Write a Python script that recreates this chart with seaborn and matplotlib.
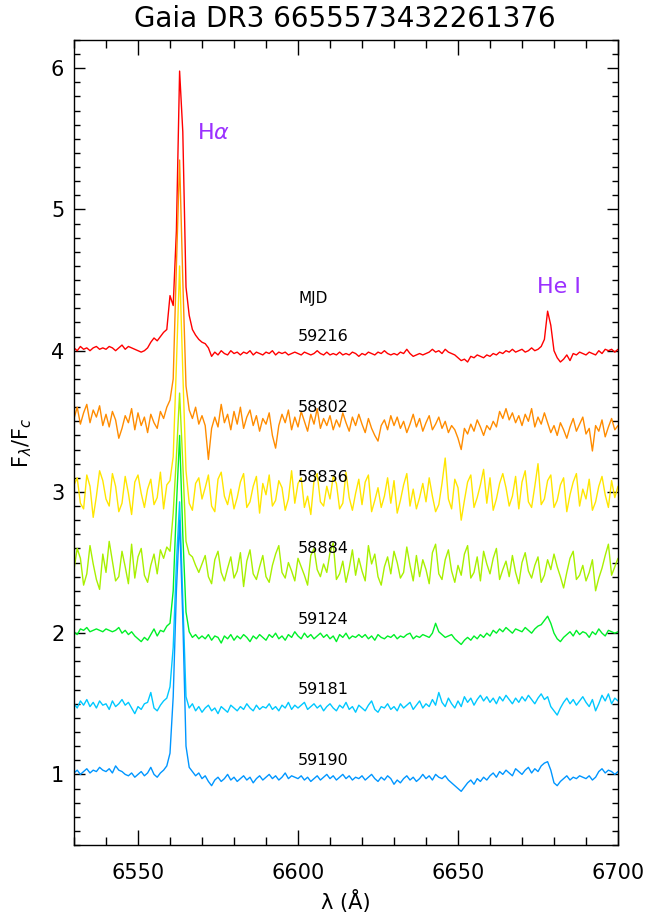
import numpy as np
import pandas as pd
import matplotlib
matplotlib.use("Agg")
import matplotlib.pyplot as plt
import seaborn as sns
from matplotlib.ticker import MultipleLocator

# ---------------- data ----------------
wavelength = np.arange(6530, 6701, 1.0)  # Angstrom sampling grid

mjd_labels = ["59216", "58802", "58836", "58884", "59124", "59181", "59190"]
offsets = [3.0, 2.5, 2.0, 1.5, 1.0, 0.5, 0.0]
line_colors = ["#FF0000", "#FF8C00", "#FFE600", "#A8F000", "#00F028", "#00C8FF", "#0096FF"]

flux_59216 = [
    1.02, 1.00, 1.03, 1.01, 1.02, 1.00, 1.02, 1.03, 1.01, 1.02,
    1.01, 1.03, 1.02, 1.00, 1.02, 1.04, 1.01, 1.03, 1.02, 1.01,
    1.00, 0.99, 1.00, 1.02, 1.06, 1.09, 1.07, 1.10, 1.13, 1.15,
    1.39, 1.32, 1.85, 2.98, 2.55, 1.45, 1.25, 1.15, 1.11, 1.08,
    1.06, 1.05, 1.02, 0.96, 0.99, 0.97, 1.00, 0.98, 0.97, 1.00,
    0.98, 0.99, 0.97, 0.99, 0.98, 1.00, 0.97, 0.99, 0.98, 0.97,
    0.99, 0.98, 1.00, 0.97, 0.99, 0.98, 0.99, 0.97, 0.98, 0.99,
    0.98, 0.97, 0.99, 0.98, 0.97, 0.98, 1.00, 0.98, 0.97, 0.99,
    0.97, 0.98, 0.97, 0.99, 0.97, 0.98, 0.97, 0.99, 0.98, 0.96,
    0.98, 0.97, 0.99, 0.98, 0.97, 0.99, 0.98, 1.00, 0.98, 0.97,
    0.98, 0.97, 0.99, 0.98, 1.01, 0.98, 0.96, 0.97, 0.98, 0.97,
    0.98, 0.99, 1.01, 0.99, 1.00, 0.98, 1.01, 0.99, 0.98, 0.97,
    0.95, 0.93, 0.94, 0.92, 0.96, 0.95, 0.97, 0.96, 0.95, 0.97,
    0.96, 0.98, 0.97, 0.99, 0.98, 1.00, 0.99, 1.01, 0.99, 1.00,
    1.01, 0.99, 1.00, 1.02, 1.00, 1.01, 1.03, 1.08, 1.28, 1.18,
    1.00, 0.95, 0.92, 0.94, 0.97, 0.93, 0.98, 0.97, 0.99, 0.98,
    0.97, 0.99, 0.98, 0.97, 1.00, 0.98, 1.01, 1.00, 1.01, 0.99,
    1.01,
]

flux_58802 = [
    1.02, 1.10, 0.98, 1.06, 1.12, 0.99, 1.08, 1.03, 1.11, 0.97,
    1.05, 0.96, 1.07, 1.01, 0.88, 0.95, 1.04, 0.99, 1.09, 0.94,
    1.06, 0.97, 1.03, 0.92, 1.05, 0.99, 0.95, 1.07, 1.02, 1.10,
    1.15, 1.30, 2.10, 2.85, 2.00, 1.25, 1.08, 1.02, 1.10, 0.98,
    1.04, 0.97, 0.73, 0.95, 1.03, 0.96, 1.12, 0.99, 1.05, 0.94,
    1.07, 0.98, 1.10, 0.95, 1.03, 1.08, 0.97, 1.04, 0.93, 1.02,
    0.98, 1.06, 0.90, 0.81, 0.97, 1.05, 0.99, 1.08, 0.94, 1.03,
    0.96, 1.07, 1.00, 0.93, 1.05, 0.98, 1.09, 0.95, 1.02, 0.97,
    1.04, 0.94, 1.01, 0.96, 1.06, 0.99, 0.93, 1.03, 0.97, 1.05,
    0.98, 0.92, 1.02, 0.95, 0.90, 0.86, 0.97, 1.01, 0.94, 1.04,
    0.97, 1.03, 0.95, 1.00, 0.92, 0.98, 1.05, 0.96, 1.02, 0.93,
    0.99, 1.04, 0.94, 0.98, 1.03, 0.95, 1.00, 0.92, 0.97, 0.94,
    0.88, 0.80, 0.95, 0.91, 0.98, 0.93, 1.01, 0.96, 0.90, 0.97,
    0.94, 1.00, 0.96, 1.07, 1.02, 1.09, 1.01, 1.06, 0.99, 1.04,
    0.97, 1.05, 1.00, 1.09, 0.96, 1.03, 0.98, 1.06, 0.99, 0.92,
    0.97, 0.90, 0.99, 0.94, 0.88, 0.96, 1.02, 0.93, 0.98, 1.03,
    0.91, 0.95, 0.79, 0.97, 0.93, 1.01, 0.89, 0.96, 1.02, 0.94,
    0.97,
]

flux_58836 = [
    1.05, 1.10, 0.92, 0.88, 1.12, 1.04, 0.82, 0.97, 1.15, 1.08,
    0.95, 0.90, 1.13, 1.04, 0.86, 0.92, 1.11, 0.99, 0.84, 1.07,
    1.12, 0.99, 0.89, 1.02, 1.09, 0.91, 0.96, 1.14, 0.88, 1.05,
    1.08, 1.25, 1.90, 2.60, 1.85, 1.15, 0.92, 0.87, 1.06, 1.10,
    0.95, 1.03, 1.12, 0.90, 0.86, 1.09, 1.14, 0.97, 0.91, 1.02,
    0.88, 0.96, 1.07, 1.13, 0.89, 0.93, 1.04, 1.11, 0.85, 1.06,
    0.98, 1.12, 0.90, 0.94, 1.08, 1.03, 0.87, 0.95, 1.15, 0.92,
    1.06, 1.10, 0.89, 0.97, 0.84, 1.08, 1.13, 0.93, 0.90, 1.04,
    0.95, 1.11, 1.06, 0.88, 0.92, 1.14, 0.96, 0.87, 0.99, 1.09,
    0.91, 1.07, 1.12, 0.86, 0.94, 1.03, 0.89, 0.97, 1.10, 0.92,
    1.08, 0.85, 0.94, 1.05, 1.13, 0.90, 1.02, 0.88, 0.96, 1.06,
    0.93, 1.10, 0.97, 0.86, 0.91, 1.06, 1.24, 0.95, 0.88, 1.09,
    1.03, 0.80, 0.94, 1.07, 1.12, 0.89, 0.96, 1.05, 1.16, 0.92,
    1.10, 0.87, 0.95, 1.06, 1.13, 1.03, 0.90, 0.97, 1.11, 0.88,
    1.07, 1.15, 0.93, 0.89, 1.04, 1.20, 0.91, 0.95, 1.08, 1.12,
    0.89, 0.94, 1.05, 1.10, 0.86, 0.98, 1.07, 1.13, 0.90, 1.02,
    0.95, 1.09, 0.87, 0.93, 1.04, 1.11, 0.98, 0.89, 1.08, 0.96,
    1.04,
]

flux_58884 = [
    0.95, 1.10, 1.03, 0.84, 0.92, 1.12, 0.99, 0.88, 0.81, 1.06,
    0.93, 1.15, 1.01, 0.87, 0.90, 1.08, 0.97, 0.85, 1.13, 0.89,
    1.04, 1.10, 0.91, 0.86, 0.98, 1.06, 0.92, 1.09, 1.03, 1.11,
    1.08, 1.35, 1.75, 2.20, 1.70, 1.15, 1.06, 1.04, 0.98, 0.93,
    0.99, 1.05, 0.90, 0.85, 1.02, 1.08, 0.93, 0.87, 0.96, 1.04,
    0.89, 0.94, 1.07, 0.83, 1.01, 1.09, 0.92, 0.88, 0.97, 1.05,
    0.90, 0.86, 0.98, 1.06, 1.12, 0.93, 0.89, 1.00, 0.94, 0.87,
    1.03, 0.97, 0.91, 0.84, 1.05, 1.10, 0.95, 0.90, 0.99, 0.93,
    1.07, 1.14, 0.88, 0.92, 1.01, 0.86, 0.96, 1.09, 0.91, 1.03,
    0.94, 0.87, 1.12, 0.99, 1.06, 0.90, 0.84, 0.97, 1.04, 0.92,
    1.08, 1.00, 0.89, 0.93, 1.11, 0.98, 0.87, 1.05, 0.90, 1.02,
    0.95, 0.85, 1.07, 1.13, 0.92, 0.88, 1.02, 1.09, 0.94, 0.86,
    0.98, 0.91, 1.06, 1.12, 0.89, 0.93, 1.04, 0.87, 1.08, 0.99,
    0.92, 1.03, 1.10, 0.88, 0.95, 1.01, 0.90, 1.05, 0.93, 0.85,
    1.00, 1.07, 0.94, 0.89, 0.98, 1.04, 0.86, 0.91, 1.02, 0.95,
    1.06, 0.97, 0.90, 0.82, 0.93, 1.03, 1.08, 0.88, 0.91, 0.98,
    0.87, 0.93, 1.02, 0.80, 0.89, 0.96, 1.05, 1.13, 0.91, 0.97,
    1.03,
]

flux_59124 = [
    1.01, 0.99, 1.03, 1.02, 1.04, 1.01, 1.02, 1.03, 1.02, 1.01,
    1.03, 1.02, 1.01, 1.02, 1.04, 1.00, 1.02, 0.99, 1.01, 0.98,
    0.96, 0.94, 0.97, 0.95, 0.99, 1.03, 0.98, 1.02, 1.01, 1.05,
    1.07, 1.30, 1.90, 2.40, 1.70, 1.15, 1.01, 0.97, 0.99, 0.96,
    0.98, 0.96, 0.99, 0.95, 0.98, 0.97, 0.93, 0.98, 0.96, 0.99,
    0.95, 0.98, 0.96, 0.99, 0.97, 0.94, 0.98, 0.96, 0.99, 0.97,
    0.95, 0.99, 0.97, 1.00, 0.96, 0.98, 0.95, 0.99, 0.97, 1.01,
    0.98, 0.96, 1.00, 0.97, 0.99, 0.96, 0.98, 1.00, 0.97, 0.99,
    0.96, 0.98, 0.94, 0.99, 0.97, 1.00, 0.96, 0.98, 0.97, 0.99,
    0.97, 0.99, 0.96, 0.98, 0.95, 0.99, 0.97, 0.96, 0.98, 0.97,
    0.99, 0.96, 0.98, 0.97, 0.99, 1.00, 0.96, 0.98, 0.97, 0.99,
    0.98, 0.97, 1.00, 1.07, 1.01, 0.99, 0.97, 0.98, 0.99, 0.96,
    0.94, 0.92, 0.95, 0.97, 0.95, 0.98, 0.96, 0.99, 0.97, 1.00,
    0.98, 1.02, 1.00, 1.03, 1.01, 1.04, 1.02, 1.00, 1.03, 1.02,
    1.01, 1.04, 1.02, 1.00, 1.03, 1.05, 1.06, 1.09, 1.12, 1.07,
    1.00, 0.96, 0.94, 0.97, 0.99, 1.01, 0.98, 1.02, 0.99, 1.01,
    1.00, 0.97, 1.01, 0.99, 1.03, 1.00, 0.98, 1.02, 1.01, 1.00,
    1.01,
]

flux_59181 = [
    1.00, 0.97, 1.02, 0.99, 1.03, 0.98, 1.01, 0.97, 1.02, 0.99,
    1.00, 0.96, 1.02, 0.98, 1.00, 1.03, 0.99, 1.01, 0.97, 0.93,
    0.98, 0.96, 1.00, 1.01, 1.08, 0.97, 0.95, 0.99, 1.02, 1.04,
    1.12, 1.40, 2.00, 2.43, 1.75, 1.05, 0.97, 1.00, 0.95, 0.98,
    0.94, 0.97, 0.99, 0.95, 0.97, 0.93, 0.98, 0.96, 0.94, 0.99,
    0.97, 0.95, 0.98, 0.96, 1.00, 0.97, 0.95, 0.99, 0.96, 0.98,
    0.97, 1.00, 0.96, 0.98, 0.95, 0.99, 0.97, 1.01, 0.96, 0.99,
    0.97, 0.99, 1.01, 0.96, 0.98, 1.00, 0.97, 0.99, 0.95, 0.98,
    1.00, 0.97, 0.95, 0.99, 0.97, 1.01, 0.96, 0.98, 0.94, 0.99,
    0.97, 0.95, 0.99, 1.02, 0.96, 0.94, 0.98, 0.97, 1.00, 0.96,
    0.98, 0.95, 1.00, 0.97, 0.99, 1.01, 0.96, 0.99, 1.02, 0.97,
    1.00, 0.98, 1.03, 0.99, 1.08, 1.01, 0.98, 1.04, 1.00, 0.97,
    1.02, 0.98, 1.05, 1.01, 1.04, 0.99, 1.03, 1.06, 1.02, 1.05,
    1.01, 1.04, 1.00, 1.05, 1.02, 1.06, 1.03, 1.00, 1.04, 1.01,
    1.05, 1.02, 1.06, 1.03, 1.00, 1.04, 1.07, 1.03, 1.05, 0.98,
    0.95, 0.92, 0.97, 1.01, 1.04, 1.00, 1.03, 0.99, 1.02, 1.05,
    1.01, 0.98, 1.03, 0.95, 1.00, 1.06, 1.02, 1.07, 1.00, 1.04,
    1.02,
]

flux_59190 = [
    1.01, 1.03, 1.00, 1.02, 1.04, 1.01, 1.03, 1.02, 1.05, 1.03,
    1.02, 1.04, 1.01, 1.06, 1.03, 1.02, 1.00, 0.99, 1.01, 0.98,
    1.00, 1.02, 0.99, 1.01, 1.05, 1.00, 0.98, 1.01, 1.03, 1.06,
    1.15, 1.55, 2.30, 2.80, 2.10, 1.20, 1.05, 1.02, 0.99, 1.01,
    0.97, 0.99, 0.95, 0.92, 0.96, 0.98, 0.95, 0.97, 1.00, 0.96,
    0.98, 0.95, 0.97, 0.99, 0.96, 0.98, 0.94, 0.97, 0.99, 0.96,
    0.98, 1.00, 0.97, 0.99, 0.96, 0.98, 1.01, 0.97, 0.99, 0.98,
    0.97, 0.99, 0.96, 0.98, 0.95, 0.97, 0.99, 0.96, 0.98, 1.00,
    0.97, 0.99, 0.96, 0.98, 1.00, 0.97, 0.99, 0.96, 0.98, 0.97,
    0.99, 0.96, 0.98, 1.00, 0.97, 0.95, 0.98, 0.96, 0.99, 0.97,
    0.93, 0.96, 0.94, 0.97, 0.99, 0.96, 0.98, 0.95, 0.97, 1.00,
    0.97, 0.99, 0.96, 1.00, 0.98, 0.97, 0.99, 0.96, 0.94, 0.92,
    0.90, 0.88, 0.91, 0.94, 0.96, 0.93, 0.97, 0.95, 0.98, 0.96,
    0.99, 1.01, 0.98, 1.02, 1.00, 1.03, 1.01, 0.99, 1.04, 1.02,
    1.00, 1.03, 1.05, 1.01, 1.04, 1.02, 1.06, 1.08, 1.09, 1.03,
    0.94, 0.92, 0.95, 0.97, 0.99, 0.96, 0.98, 0.97, 0.99, 0.98,
    0.97, 0.99, 0.96, 0.98, 1.02, 1.04, 1.01, 1.03, 1.02, 1.00,
    1.02,
]

spectra = [flux_59216, flux_58802, flux_58836, flux_58884, flux_59124, flux_59181, flux_59190]

title_text = "Gaia DR3 6655573432261376"
xlim = (6530, 6700)
ylim = (0.5, 6.2)

# ---------------- plot ----------------
sns.set_theme(style="white")
plt.rcParams["font.family"] = ["DejaVu Sans"]
plt.rcParams["mathtext.fontset"] = "dejavusans"
for key in ["text.color", "axes.labelcolor", "xtick.color", "ytick.color", "axes.edgecolor"]:
    plt.rcParams[key] = "black"

fig = plt.figure(figsize=(6.64, 9.13), dpi=100)
ax = fig.add_axes([74 / 664, 1 - 845 / 913, (618 - 74) / 664, (845 - 40) / 913])

for label, off, col, flux in zip(mjd_labels, offsets, line_colors, spectra):
    df = pd.DataFrame({"wl": wavelength, "flux": np.array(flux) + off})
    sns.lineplot(data=df, x="wl", y="flux", color=col, lw=1.0, ax=ax,
                 estimator=None, sort=False)
    ax.text(6600, 1.0 + off + 0.1, label, fontsize=11.5, color="black",
            ha="left", va="center")

ax.text(6600, 4.37, "MJD", fontsize=11, color="black", ha="left", va="center")
ax.text(6568.4, 5.54, r"H$\alpha$", fontsize=16, color="#9B30FF",
        ha="left", va="center")
ax.text(6674.7, 4.45, "He I", fontsize=16, color="#9B30FF",
        ha="left", va="center")

ax.set_xlim(*xlim)
ax.set_ylim(*ylim)
ax.xaxis.set_major_locator(MultipleLocator(50))
ax.xaxis.set_minor_locator(MultipleLocator(10))
ax.yaxis.set_major_locator(MultipleLocator(1))
ax.yaxis.set_minor_locator(MultipleLocator(0.1))

ax.tick_params(axis="x", which="major", direction="in", length=10.5, width=1,
               top=True, bottom=True, labelsize=15, pad=13)
ax.tick_params(axis="x", which="minor", direction="in", length=5.5, width=1,
               top=True, bottom=True)
ax.tick_params(axis="y", which="major", direction="in", length=8, width=1,
               left=True, right=True, labelsize=15, pad=7)
ax.tick_params(axis="y", which="minor", direction="in", length=4, width=1,
               left=True, right=True)
for sp in ax.spines.values():
    sp.set_color("black")
    sp.set_linewidth(1.0)

ax.set_xlabel("λ (Å)", fontsize=15, labelpad=5)
ax.set_ylabel(r"F$_{\lambda}$/F$_{c}$", fontsize=15, labelpad=12)
fig.text(345 / 664, 1 - 19 / 913, title_text, fontsize=20, ha="center", va="center")

fig.savefig("out.png", dpi=100)
